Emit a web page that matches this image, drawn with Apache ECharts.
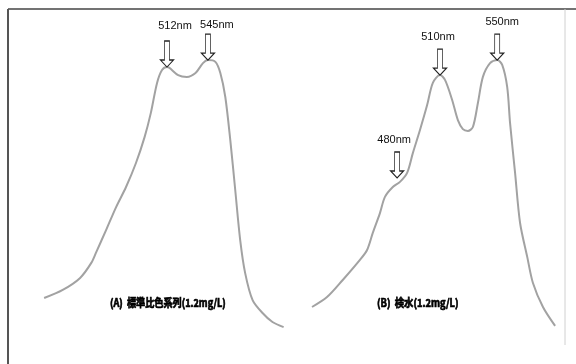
<!DOCTYPE html>
<html>
<head>
<meta charset="utf-8">
<script src="https://cdn.jsdelivr.net/npm/echarts@6/dist/echarts.min.js"></script>
<style>
  html, body { margin: 0; padding: 0; background: #fff; }
  #chart { width: 576px; height: 364px; }
</style>
</head>
<body>
<div id="chart"></div>
<script>
// (A) standard colour series spectrum, 1.2 mg/L
const wavelengthA = [413, 428, 442, 451, 455, 463, 471, 479, 487, 494, 499, 504, 508, 512, 514, 521, 528, 535, 541, 545, 551, 555, 559, 563, 567, 571, 575, 581, 589, 597, 606];
const absorbanceA = [0.140, 0.167, 0.207, 0.257, 0.293, 0.367, 0.443, 0.510, 0.590, 0.677, 0.757, 0.857, 0.900, 0.910, 0.907, 0.883, 0.877, 0.890, 0.923, 0.933, 0.927, 0.890, 0.810, 0.667, 0.500, 0.333, 0.223, 0.133, 0.090, 0.060, 0.043];
const peaksA = [512, 545];

// (B) sample water spectrum, 1.2 mg/L
const wavelengthB = [420.5, 431, 442, 454, 459, 463, 468, 471.5, 477, 482, 487, 491, 496, 501, 505, 510, 513.5, 518.5, 522.5, 526, 529.5, 533, 536.5, 540, 545, 550, 553.5, 557, 559, 562.5, 566, 571, 575, 582, 590.5];
const absorbanceB = [0.110, 0.143, 0.200, 0.267, 0.300, 0.357, 0.423, 0.477, 0.510, 0.527, 0.557, 0.623, 0.700, 0.783, 0.857, 0.883, 0.867, 0.800, 0.733, 0.703, 0.697, 0.710, 0.790, 0.877, 0.923, 0.933, 0.917, 0.843, 0.723, 0.557, 0.390, 0.277, 0.190, 0.110, 0.047];
const peaksB = [480, 510, 550];

const captionA = '(A)  標準比色系列(1.2mg/L)';
const captionB = '(B)  検水(1.2mg/L)';

// placement tweaks for each arrow: [label dx, label distance, arrow lift]
const arrowStyleA = [[8, 9, 0], [9, 3, 0]];
const arrowStyleB = [[-3, 6, 6], [-2, 6, 0], [5, 6, 0]];

function valueAt(xs, ys, x) {
  for (let i = 0; i < xs.length - 1; i++) {
    if (x >= xs[i] && x <= xs[i + 1]) {
      const t = (x - xs[i]) / (xs[i + 1] - xs[i]);
      return ys[i] + t * (ys[i + 1] - ys[i]);
    }
  }
  return ys[ys.length - 1];
}

const ARROW = 'path://M4,0L9,0L9,19L13,19L6.5,26L0,19L4,19Z';

function arrows(xs, ys, peaks, styles) {
  return peaks.map((w, i) => {
    const [dx, dist, lift] = styles[i];
    return {
      coord: [w, valueAt(xs, ys, w)],
      symbol: ARROW,
      symbolSize: [13, 26],
      symbolOffset: [0, -13 - lift],
      itemStyle: { color: '#fff', borderColor: '#222', borderWidth: 1 },
      label: {
        show: true,
        position: 'top',
        distance: dist,
        offset: [dx, 0],
        formatter: w + 'nm',
        color: '#111',
        fontSize: 11,
        fontFamily: '"Liberation Sans Narrow", "Liberation Sans", sans-serif'
      }
    };
  });
}

function pairs(xs, ys) { return xs.map((x, i) => [x, ys[i]]); }

const lineStyle = { color: '#a2a2a2', width: 2 };

const captionFont = 'bold 11px "Noto Sans CJK JP", sans-serif';

const chart = echarts.init(document.getElementById('chart'), null, { renderer: 'canvas' });
chart.setOption({
  backgroundColor: '#fff',
  animation: false,
  grid: [
    { left: 28, top: 40, width: 273, height: 300 },
    { left: 297, top: 40, width: 271.7, height: 300 }
  ],
  xAxis: [
    { type: 'value', gridIndex: 0, min: 400, max: 620, show: false },
    { type: 'value', gridIndex: 1, min: 410, max: 600, show: false }
  ],
  yAxis: [
    { type: 'value', gridIndex: 0, min: 0, max: 1, show: false },
    { type: 'value', gridIndex: 1, min: 0, max: 1, show: false }
  ],
  series: [
    {
      type: 'line', xAxisIndex: 0, yAxisIndex: 0,
      data: pairs(wavelengthA, absorbanceA),
      smooth: 0.3, showSymbol: false, lineStyle,
      markPoint: { data: arrows(wavelengthA, absorbanceA, peaksA, arrowStyleA) }
    },
    {
      type: 'line', xAxisIndex: 1, yAxisIndex: 1,
      data: pairs(wavelengthB, absorbanceB),
      smooth: 0.3, showSymbol: false, lineStyle,
      markPoint: { data: arrows(wavelengthB, absorbanceB, peaksB, arrowStyleB) }
    }
  ],
  graphic: [
    { type: 'line', shape: { x1: 8, y1: 9, x2: 576, y2: 9 }, style: { stroke: '#444', lineWidth: 1.5 } },
    { type: 'line', shape: { x1: 8, y1: 9, x2: 8, y2: 364 }, style: { stroke: '#555', lineWidth: 2 } },
    { type: 'line', shape: { x1: 565, y1: 9, x2: 565, y2: 345 }, style: { stroke: '#d0d0d0', lineWidth: 1 } },
    {
      type: 'text', x: 110, y: 303, scaleX: 0.83,
      style: { text: captionA, fill: '#000', stroke: '#000', lineWidth: 0.7, font: captionFont, textVerticalAlign: 'middle' }
    },
    {
      type: 'text', x: 377, y: 303, scaleX: 0.85,
      style: { text: captionB, fill: '#000', stroke: '#000', lineWidth: 0.7, font: captionFont, textVerticalAlign: 'middle' }
    }
  ]
});
</script>
</body>
</html>
